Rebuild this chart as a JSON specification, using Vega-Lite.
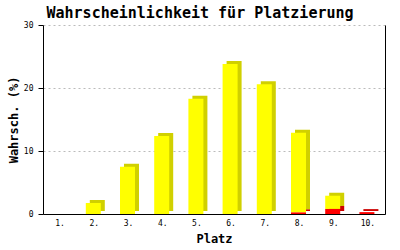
{
  "$schema": "https://vega.github.io/schema/vega-lite/v6.json",
  "width": 342,
  "height": 189,
  "autosize": {"type": "none"},
  "padding": {"left": 43, "top": 25, "right": 15, "bottom": 36},
  "background": "white",
  "config": {"view": {"stroke": null}},
  "title": {
    "text": "Wahrscheinlichkeit für Platzierung",
    "font": "DejaVu Sans Mono",
    "fontSize": 15,
    "fontWeight": "bold",
    "color": "black",
    "anchor": "middle",
    "frame": "group",
    "dx": -14,
    "dy": 19,
    "offset": 7,
    "baseline": "alphabetic"
  },
  "data": {
    "values": [
      {"platz": "1.", "type": "gelb", "value": 0},
      {"platz": "1.", "type": "rot", "value": 0},
      {"platz": "2.", "type": "gelb", "value": 1.75},
      {"platz": "2.", "type": "rot", "value": 0},
      {"platz": "3.", "type": "gelb", "value": 7.5},
      {"platz": "3.", "type": "rot", "value": 0},
      {"platz": "4.", "type": "gelb", "value": 12.4},
      {"platz": "4.", "type": "rot", "value": 0},
      {"platz": "5.", "type": "gelb", "value": 18.3},
      {"platz": "5.", "type": "rot", "value": 0},
      {"platz": "6.", "type": "gelb", "value": 23.8},
      {"platz": "6.", "type": "rot", "value": 0},
      {"platz": "7.", "type": "gelb", "value": 20.6},
      {"platz": "7.", "type": "rot", "value": 0},
      {"platz": "8.", "type": "gelb", "value": 12.65},
      {"platz": "8.", "type": "rot", "value": 0.25},
      {"platz": "9.", "type": "gelb", "value": 2.1},
      {"platz": "9.", "type": "rot", "value": 0.8},
      {"platz": "10.", "type": "gelb", "value": 0},
      {"platz": "10.", "type": "rot", "value": 0.3}
    ]
  },
  "encoding": {
    "x": {
      "field": "platz",
      "type": "ordinal",
      "sort": null,
      "scale": {"paddingInner": 0, "paddingOuter": 0},
      "axis": {
        "title": "Platz",
        "labelAngle": 0,
        "ticks": false,
        "domainColor": "black",
        "labelFont": "DejaVu Sans Mono",
        "labelFontSize": 8,
        "labelColor": "black",
        "labelPadding": 5,
        "titleFont": "DejaVu Sans Mono",
        "titleFontSize": 12,
        "titleFontWeight": "bold",
        "titleColor": "black",
        "titleY": 28,
        "titleBaseline": "alphabetic"
      }
    },
    "order": {"field": "type", "sort": "descending"}
  },
  "layer": [
    {
      "mark": {"type": "bar", "size": 15, "xOffset": 3, "yOffset": -3},
      "encoding": {
        "y": {
          "field": "value",
          "type": "quantitative",
          "stack": "zero",
          "scale": {"domain": [0, 30]},
          "axis": {
            "orient": "left",
            "values": [0, 10, 20, 30],
            "title": "Wahrsch. (%)",
            "grid": true,
            "gridColor": "#BBBBBB",
            "gridDash": [2, 3],
            "domainColor": "black",
            "tickColor": "black",
            "tickSize": 5,
            "labelFont": "DejaVu Sans Mono",
            "labelFontSize": 8,
            "labelColor": "black",
            "labelPadding": 5,
            "titleFont": "DejaVu Sans Mono",
            "titleFontSize": 12,
            "titleFontWeight": "bold",
            "titleColor": "black",
            "titleX": -26,
            "titleY": 94.5,
            "titleBaseline": "alphabetic"
          }
        },
        "color": {
          "field": "type",
          "type": "nominal",
          "scale": {"domain": ["gelb", "rot"], "range": ["#D0D000", "#CC0000"]},
          "legend": null
        }
      }
    },
    {
      "mark": {"type": "bar", "size": 15, "xOffset": -1},
      "encoding": {
        "y": {
          "field": "value",
          "type": "quantitative",
          "stack": "zero",
          "scale": {"domain": [0, 30]},
          "axis": {
            "orient": "right",
            "labels": false,
            "ticks": false,
            "grid": false,
            "domain": true,
            "domainColor": "black",
            "title": null
          }
        },
        "color": {
          "field": "type",
          "type": "nominal",
          "scale": {"domain": ["gelb", "rot"], "range": ["#FFFF00", "#FF0000"]},
          "legend": null
        }
      }
    }
  ],
  "resolve": {"axis": {"y": "independent"}, "scale": {"color": "independent"}}
}
